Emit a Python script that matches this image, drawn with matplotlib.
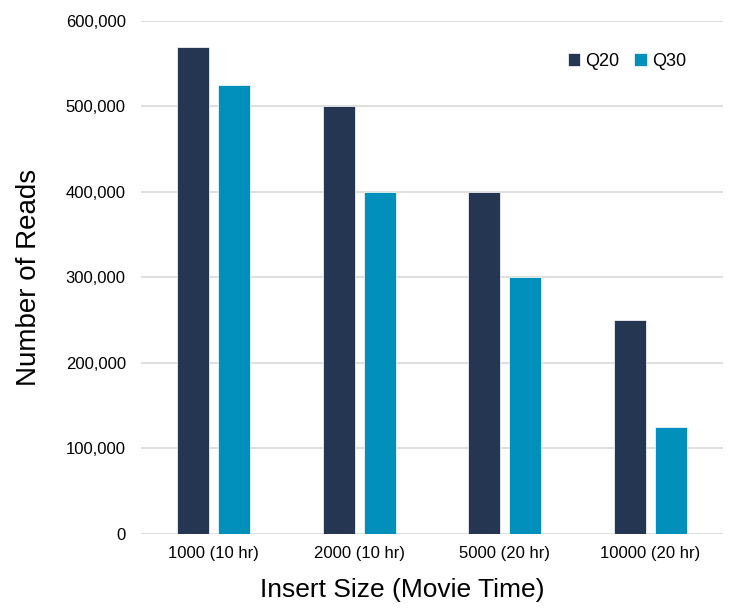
import numpy as np
import matplotlib.pyplot as plt
from matplotlib.ticker import FuncFormatter

plt.rcParams['font.family'] = ['Liberation Sans', 'DejaVu Sans']

categories = ['1000 (10 hr)', '2000 (10 hr)', '5000 (20 hr)', '10000 (20 hr)']
q20 = [570000, 500000, 400000, 250000]
q30 = [525000, 400000, 300000, 125000]

c_q20 = '#243651'
c_q30 = '#0090bb'

fig = plt.figure(figsize=(7.31, 6.10), dpi=100)
ax = fig.add_axes([0.193, 0.1246, 0.796, 0.841])

x = np.arange(len(categories))
w = 0.22
ax.bar(x - 0.141, q20, w, color=c_q20, edgecolor='white', linewidth=0.5, label='Q20', zorder=3)
ax.bar(x + 0.141, q30, w, color=c_q30, edgecolor='white', linewidth=0.5, label='Q30', zorder=3)

ax.set_xlim(-0.5, len(categories) - 0.5)
ax.set_ylim(0, 600000)
ax.set_yticks(np.arange(0, 600001, 100000))
ax.yaxis.set_major_formatter(FuncFormatter(lambda v, p: f'{int(v):,}'))
ax.set_xticks(x)
ax.set_xticklabels(categories, fontsize=12)
ax.tick_params(axis='y', labelsize=12, length=0, pad=11)
ax.tick_params(axis='x', length=0, pad=9)

ax.grid(axis='y', color='#d9d9d9', linewidth=1.2, zorder=0)
for s in ax.spines.values():
    s.set_visible(False)

ax.set_ylabel('Number of Reads', fontsize=20, labelpad=17)
ax.set_xlabel('Insert Size (Movie Time)', fontsize=19)
# axis title sits left of the plot centre in the original
ax.xaxis.set_label_coords(0.448, -0.086)

ax.legend(loc='upper right', ncol=2, frameon=False, fontsize=13,
          handlelength=0.7, handleheight=0.7, handletextpad=0.3,
          columnspacing=0.8, bbox_to_anchor=(0.965, 0.97))

fig.savefig('out.png', dpi=100)
